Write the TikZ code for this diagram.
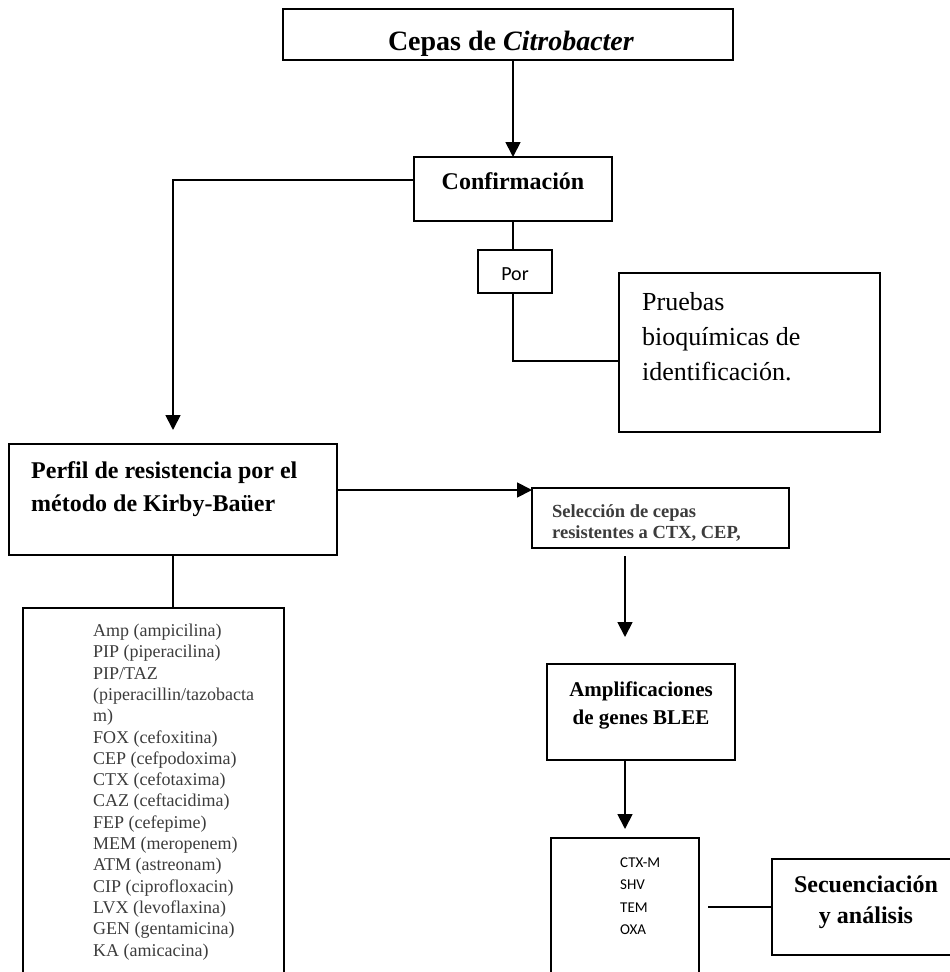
\documentclass[tikz,border=0pt]{standalone}
\usepackage{fontspec}
\setmainfont{Liberation Serif}
\newfontfamily\calib{Carlito}
\usetikzlibrary{arrows.meta}
\definecolor{txtgray}{HTML}{3C3C3C}
\newcommand\tightls{\lineskiplimit=-20pt\relax\lineskip=0pt\relax}
\begin{document}
\begin{tikzpicture}[x=1pt,y=-1pt,
  box/.style={draw, line width=1.6pt, inner sep=0pt, outer sep=0pt, anchor=north west},
  lbl/.style={inner sep=0pt, anchor=base west, align=left},
  arr/.style={line width=1.8pt, -{Triangle[width=15pt,length=15pt]}},
  conn/.style={line width=1.4pt}]
\useasboundingbox (0,0) rectangle (950,972);
\fill[white] (0,0) rectangle (950,972);
\begin{scope}
\clip (0,0) rectangle (950,972);
% boxes
\node[box, minimum width=450pt, minimum height=51pt] (cepas) at (283,9) {};
\node[box, minimum width=198pt, minimum height=64pt] (conf) at (414,157) {};
\node[box, minimum width=74pt, minimum height=43pt] (por) at (478,250) {};
\node[box, minimum width=261pt, minimum height=159pt] (prueb) at (619,273) {};
\node[box, minimum width=328pt, minimum height=111pt] (perfil) at (9,444) {};
\node[box, minimum width=257pt, minimum height=60pt] (selec) at (532,488) {};
\node[box, minimum width=188pt, minimum height=96pt] (amp) at (547,664) {};
\node[box, minimum width=148pt, minimum height=170pt] (genes) at (551,838) {};
\node[box, minimum width=200pt, minimum height=96pt] (secu) at (772,859) {};
\node[box, minimum width=261pt, minimum height=400pt] (list) at (23,608) {};
\end{scope}
% texts (anchor base = baseline of last line)
\node[inner sep=0pt, anchor=base, font=\fontsize{28}{30}\selectfont\bfseries] (tcepas) at (511,50) {Cepas de \textit{Citrobacter}};
\node[inner sep=0pt, anchor=base, font=\fontsize{24}{28}\selectfont\bfseries] (tconf) at (513,189) {Confirmación};
\node[inner sep=0pt, anchor=base, font=\fontsize{20}{24}\selectfont\calib] (tpor) at (515,280) {Por};
\node[lbl, font=\fontsize{26}{35}\selectfont] (tprueb) at (642,380) {Pruebas\\bioquímicas de\\identificación.};
\node[lbl, font=\fontsize{24}{33}\selectfont\bfseries] (tperfil) at (31,511) {Perfil de resistencia por el\\método de Kirby-Baüer};
\node[lbl, font=\fontsize{18.5}{21}\selectfont\bfseries\tightls, text=txtgray] (tselec) at (552,538) {Selección de cepas\\resistentes a CTX, CEP,};
\node[inner sep=0pt, anchor=base, align=center, font=\fontsize{21}{28}\selectfont\bfseries] (tamp) at (641,724) {Amplificaciones\\de genes BLEE};
\node[lbl, font=\fontsize{15}{22.5}\selectfont\calib] (tgenes) at (620,934.5) {CTX-M\\SHV\\TEM\\OXA};
\node[inner sep=0pt, anchor=base, align=center, font=\fontsize{24}{31}\selectfont\bfseries] (tsecu) at (866,923) {Secuenciación\\y análisis};
\node[lbl, font=\fontsize{18}{21.3}\selectfont\tightls, text=txtgray] (tlist) at (93,956) {Amp (ampicilina)\\PIP (piperacilina)\\PIP/TAZ\\(piperacillin/tazobacta\\m)\\FOX (cefoxitina)\\CEP (cefpodoxima)\\CTX (cefotaxima)\\CAZ (ceftacidima)\\FEP (cefepime)\\MEM (meropenem)\\ATM (astreonam)\\CIP (ciprofloxacin)\\LVX (levoflaxina)\\GEN (gentamicina)\\KA (amicacina)};
% connectors
\draw[arr] (conf.north |- cepas.south) -- (conf.north);
\draw[arr, shorten >=14pt] ([yshift=9pt]conf.west) -| (perfil.north);
\draw[conn] (conf.south) -- (conf.south |- por.north);
\draw[conn] (conf.south |- por.south) |- ([yshift=-8.5pt]prueb.west);
\draw[arr] ([yshift=9.5pt]perfil.east) -- ([yshift=-2pt]selec.north west);
\draw[conn] (perfil.south) -- (perfil.south |- list.north);
\draw[arr] ([xshift=-35.5pt,yshift=-8pt]selec.south) -- ([xshift=-16pt,yshift=27pt]amp.north);
\draw[arr] (genes.north |- amp.south) -- ([yshift=9pt]genes.north);
\draw[conn] ([xshift=-64pt]secu.west) -- (secu.west);
\end{tikzpicture}
\end{document}
